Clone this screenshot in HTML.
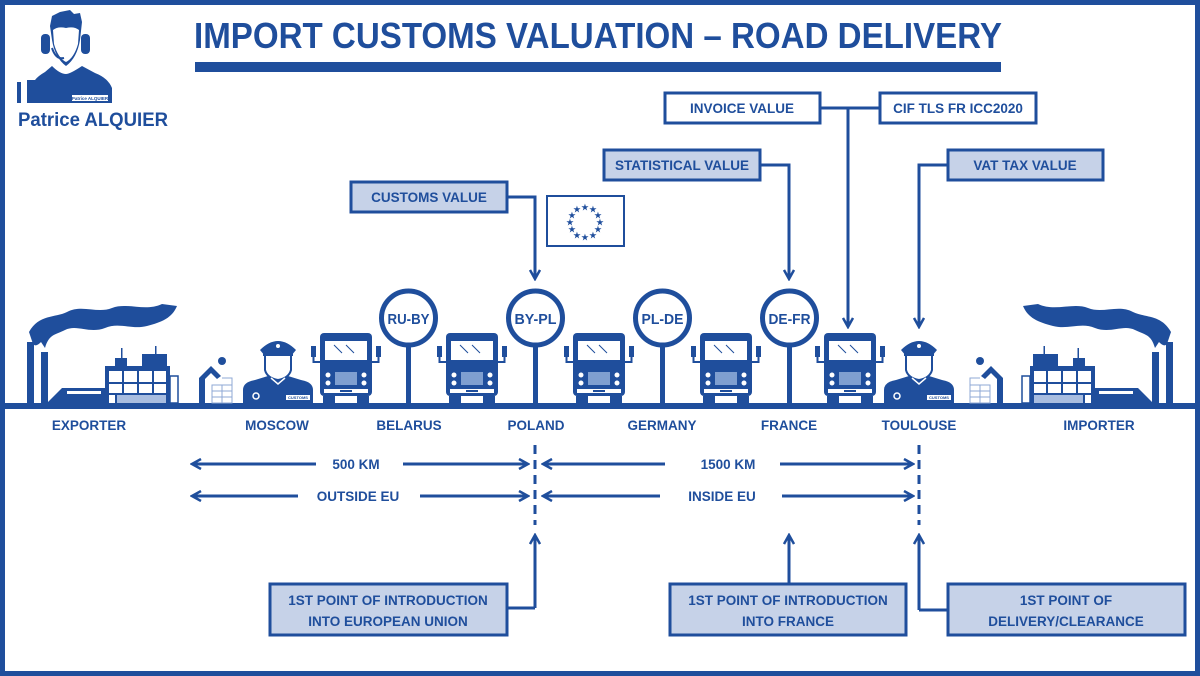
<!DOCTYPE html>
<html><head><meta charset="utf-8"><style>
html,body{margin:0;padding:0;background:#fff}
svg{display:block}
text{font-family:"Liberation Sans",Arial,sans-serif;font-weight:bold;fill:#1f4e9c}
</style></head><body>
<svg width="1200" height="676" viewBox="0 0 1200 676" xmlns="http://www.w3.org/2000/svg">
<defs>
<marker id="ah" viewBox="0 0 12 12" refX="10" refY="6" markerWidth="12" markerHeight="12" markerUnits="userSpaceOnUse" orient="auto">
<path d="M1,1 L10,6 L1,11" fill="none" stroke="#1f4e9c" stroke-width="2.5"/>
</marker>
<g id="bus">
<rect x="-9" y="13" width="5" height="11" fill="#1f4e9c"/><path d="M-6.5,24 V29 H0" stroke="#1f4e9c" stroke-width="2" fill="none"/>
<rect x="56" y="13" width="5" height="11" fill="#1f4e9c"/><path d="M58.5,24 V29 H52" stroke="#1f4e9c" stroke-width="2" fill="none"/>
<rect x="0" y="0" width="52" height="63" rx="4" fill="#1f4e9c"/>
<rect x="5" y="8" width="42" height="19" fill="#fff"/>
<path d="M14,12 L22,20 M26,12 L34,20" stroke="#1f4e9c" stroke-width="1"/>
<circle cx="8" cy="42" r="2.5" fill="#fff"/><circle cx="8" cy="50" r="2.5" fill="#fff"/>
<circle cx="44" cy="42" r="2.5" fill="#fff"/><circle cx="44" cy="50" r="2.5" fill="#fff"/>
<rect x="15" y="39" width="22" height="13" fill="#7f9fd0"/>
<rect x="4" y="56" width="44" height="4" fill="#fff"/>
<rect x="20" y="57" width="12" height="2" fill="#1f4e9c"/>
<rect x="3" y="63" width="12" height="7" fill="#1f4e9c"/><rect x="37" y="63" width="12" height="7" fill="#1f4e9c"/>
</g>
<g id="off">
<path d="M0,65 V50 Q0,42 12,40 L25,36 H45 L58,40 Q70,42 70,50 V65 Z" fill="#1f4e9c"/>
<path d="M22,15 V30 Q24,38 35,40 Q46,38 48,30 V15 Z" fill="#fff" stroke="#1f4e9c" stroke-width="2"/>
<path d="M17,10 Q35,-8 53,10 L48,16 H22 Z" fill="#1f4e9c"/>
<rect x="20" y="12" width="30" height="4" fill="#1f4e9c"/>
<circle cx="35" cy="6" r="2" fill="#fff"/>
<path d="M28,38 L35,44 L42,38" stroke="#fff" stroke-width="1.5" fill="none"/>
<rect x="43" y="55" width="24" height="5" fill="#fff"/>
<text x="55" y="59" font-size="4" text-anchor="middle">CUSTOMS</text>
<circle cx="13" cy="56" r="3" fill="none" stroke="#fff" stroke-width="1.5"/>
</g>
<g id="fac">
<path d="M2,0 C12,-18 28,-14 40,-20 C55,-28 70,-18 85,-24 C100,-30 118,-20 135,-28 L150,-26 C145,-14 135,-10 120,-6 C105,-2 92,-10 78,-4 C62,2 50,-8 38,-2 C28,3 22,2 18,16 L14,10 C10,14 8,14 6,12 Z" fill="#1f4e9c"/>
<rect x="0" y="10" width="7" height="61" fill="#1f4e9c"/>
<rect x="14" y="20" width="7" height="51" fill="#1f4e9c"/>
<path d="M20,71 L35,56 H78 V71 Z" fill="#1f4e9c"/>
<rect x="40" y="59" width="34" height="3" fill="#fff"/>
<rect x="78" y="34" width="65" height="37" fill="#1f4e9c"/>
<rect x="88" y="26" width="12" height="8" fill="#1f4e9c"/><rect x="115" y="22" width="25" height="12" fill="#1f4e9c"/>
<rect x="94" y="16" width="1.5" height="10" fill="#1f4e9c"/><rect x="128" y="14" width="1.5" height="8" fill="#1f4e9c"/>
<g fill="#fff"><rect x="82" y="39" width="13" height="11"/><rect x="97" y="39" width="13" height="11"/><rect x="112" y="39" width="13" height="11"/><rect x="127" y="39" width="12" height="11"/>
<rect x="82" y="52" width="13" height="9"/><rect x="97" y="52" width="13" height="9"/><rect x="112" y="52" width="13" height="9"/><rect x="127" y="52" width="12" height="9"/>
<rect x="82" y="63" width="6" height="8"/><rect x="90" y="63" width="49" height="8" fill="#a8bde0"/></g>
<rect x="143" y="44" width="8" height="27" fill="none" stroke="#1f4e9c" stroke-width="1.5"/>
</g>
<g id="wk">
<circle cx="23" cy="3" r="4" fill="#1f4e9c"/>
<path d="M0,45 V20 L12,8 L22,18 L18,21 L12,15 L6,21 V45 Z" fill="#1f4e9c"/>
<g fill="none" stroke="#8fa9d6" stroke-width="1"><rect x="13" y="27" width="20" height="18"/><path d="M13,33 H33 M13,39 H33 M23,27 V45 M23,20 H33 V27"/></g>
</g>
</defs>
<rect x="2.5" y="2.5" width="1195" height="671" fill="none" stroke="#1f4e9c" stroke-width="5"/>
<!-- logo -->
<g fill="#1f4e9c">
<path d="M50,26 L52,16 L60,12 L70,10 L74,14 L80,13 L82,22 L80,40 Q77,58 66,66 Q55,58 52,40 Z"/>
<rect x="41" y="34" width="9" height="20" rx="4"/><rect x="81" y="34" width="9" height="20" rx="4"/>
<path d="M52,66 L45,72 Q38,76 35,80 V103 H112 V88 Q108,78 95,73 L82,66 Q70,74 66,74 Q60,74 52,66 Z"/>
<rect x="17" y="82" width="8" height="21"/><rect x="27" y="80" width="8" height="23"/>
</g>
<path d="M53,30 Q58,26 66,28 Q74,26 79,30 L78,44 Q74,58 66,62 Q58,58 54,44 Z" fill="#fff"/>
<path d="M52,48 Q56,60 64,58" stroke="#1f4e9c" stroke-width="2" fill="none"/>
<rect x="21" y="80" width="4" height="23" fill="#fff"/>
<rect x="72" y="95" width="36" height="6" fill="#fff"/>
<text x="90" y="100" font-size="4.5" text-anchor="middle">Patrice ALQUIER</text>
<text x="18" y="126" font-size="19" textLength="150" lengthAdjust="spacingAndGlyphs">Patrice ALQUIER</text>
<!-- title -->
<text x="598" y="48" font-size="36" text-anchor="middle" textLength="808" lengthAdjust="spacingAndGlyphs">IMPORT CUSTOMS VALUATION – ROAD DELIVERY</text>
<rect x="195" y="62" width="806" height="10" fill="#1f4e9c"/>
<!-- ground -->
<rect x="0" y="403" width="1200" height="6" fill="#1f4e9c"/>
<!-- factories -->
<use href="#fac" x="27" y="332"/>
<g transform="translate(1173,332) scale(-1,1)"><use href="#fac"/></g>
<use href="#wk" x="199" y="358"/>
<g transform="translate(1003,358) scale(-1,1)"><use href="#wk"/></g>
<use href="#off" x="243" y="340"/>
<use href="#off" x="884" y="340"/>
<!-- buses -->
<use href="#bus" x="320" y="333"/><use href="#bus" x="446" y="333"/><use href="#bus" x="573" y="333"/><use href="#bus" x="700" y="333"/><use href="#bus" x="824" y="333"/>
<!-- signs -->
<g fill="#1f4e9c">
<rect x="406" y="346" width="5" height="58"/><rect x="533" y="346" width="5" height="58"/><rect x="660" y="346" width="5" height="58"/><rect x="787" y="346" width="5" height="58"/>
</g>
<g fill="#fff" stroke="#1f4e9c" stroke-width="5">
<circle cx="408.5" cy="318" r="27"/><circle cx="535.5" cy="318" r="27"/><circle cx="662.5" cy="318" r="27"/><circle cx="789.5" cy="318" r="27"/>
</g>
<g font-size="15" text-anchor="middle">
<text x="408.5" y="324" textLength="42" lengthAdjust="spacingAndGlyphs">RU-BY</text><text x="535.5" y="324" textLength="42" lengthAdjust="spacingAndGlyphs">BY-PL</text><text x="662.5" y="324" textLength="42" lengthAdjust="spacingAndGlyphs">PL-DE</text><text x="789.5" y="324" textLength="42" lengthAdjust="spacingAndGlyphs">DE-FR</text>
</g>
<!-- EU flag -->
<rect x="547" y="196" width="77" height="50" fill="#fff" stroke="#1f4e9c" stroke-width="2"/>
<g font-size="8" text-anchor="middle">
<text x="585" y="210">★</text><text x="585" y="240">★</text><text x="570" y="225">★</text><text x="600" y="225">★</text>
<text x="577" y="212">★</text><text x="593" y="212">★</text><text x="577" y="238">★</text><text x="593" y="238">★</text>
<text x="572" y="218">★</text><text x="598" y="218">★</text><text x="572" y="232">★</text><text x="598" y="232">★</text>
</g>
<!-- top boxes -->
<g stroke="#1f4e9c" stroke-width="3">
<rect x="665" y="93" width="155" height="30" fill="#fff"/>
<rect x="880" y="93" width="156" height="30" fill="#fff"/>
<rect x="604" y="150" width="156" height="30" fill="#c6d2e8"/>
<rect x="948" y="150" width="155" height="30" fill="#c6d2e8"/>
<rect x="351" y="182" width="156" height="30" fill="#c6d2e8"/>
</g>
<g font-size="13.5" text-anchor="middle">
<text x="742" y="113">INVOICE VALUE</text>
<text x="958" y="113">CIF TLS FR ICC2020</text>
<text x="682" y="170">STATISTICAL VALUE</text>
<text x="1025" y="170">VAT TAX VALUE</text>
<text x="429" y="202">CUSTOMS VALUE</text>
</g>
<path d="M820,108 H880" stroke="#1f4e9c" stroke-width="3"/>
<g fill="none" stroke="#1f4e9c" stroke-width="3" marker-end="url(#ah)">
<path d="M848,108 V327"/>
<path d="M760,165 H789 V279"/>
<path d="M948,165 H919 V327"/>
<path d="M507,197 H535 V279"/>
</g>
<!-- labels -->
<g font-size="13.5" text-anchor="middle">
<text x="89" y="430">EXPORTER</text><text x="277" y="430">MOSCOW</text><text x="409" y="430">BELARUS</text><text x="536" y="430">POLAND</text>
<text x="662" y="430">GERMANY</text><text x="789" y="430">FRANCE</text><text x="919" y="430">TOULOUSE</text><text x="1099" y="430">IMPORTER</text>
<text x="356" y="469">500 KM</text><text x="358" y="501">OUTSIDE EU</text>
<text x="728" y="469">1500 KM</text><text x="722" y="501">INSIDE EU</text>
</g>
<g stroke="#1f4e9c" stroke-width="3" fill="none">
<path d="M535,445 V525 M919,445 V525" stroke-dasharray="9,6"/>
<g marker-end="url(#ah)">
<path d="M316,464 H192"/><path d="M403,464 H528"/>
<path d="M298,496 H192"/><path d="M420,496 H528"/>
<path d="M665,464 H543"/><path d="M780,464 H913"/>
<path d="M660,496 H543"/><path d="M782,496 H913"/>
<path d="M535,608 V535"/><path d="M789,583 V535"/><path d="M919,610 H919 V535"/>
</g>
<path d="M507,608 H535"/><path d="M948,610 H919"/>
</g>
<g stroke="#1f4e9c" stroke-width="3" fill="#c6d2e8">
<rect x="270" y="584" width="237" height="51"/>
<rect x="670" y="584" width="236" height="51"/>
<rect x="948" y="584" width="237" height="51"/>
</g>
<g font-size="13.5" text-anchor="middle">
<text x="388" y="605">1ST POINT OF INTRODUCTION</text><text x="388" y="626">INTO EUROPEAN UNION</text>
<text x="788" y="605">1ST POINT OF INTRODUCTION</text><text x="788" y="626">INTO FRANCE</text>
<text x="1066" y="605">1ST POINT OF</text><text x="1066" y="626">DELIVERY/CLEARANCE</text>
</g>
</svg>
</body></html>
